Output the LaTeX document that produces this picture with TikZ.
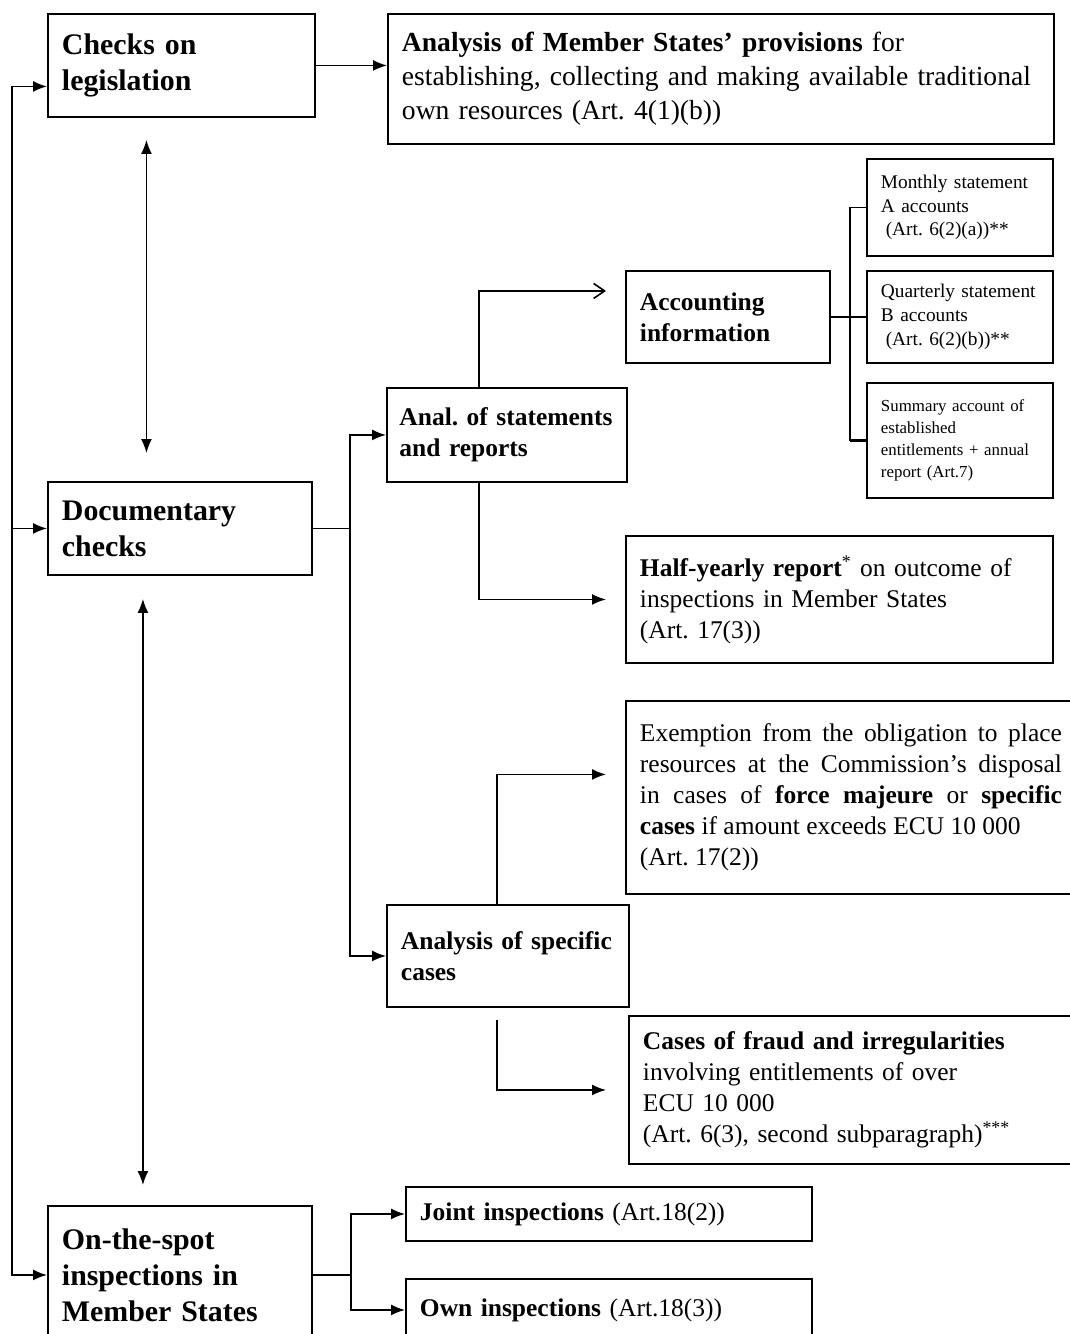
\documentclass[tikz,border=0pt]{standalone}
\usepackage{fontspec}
\setmainfont{Liberation Serif}
\usepackage{tikz}
\usetikzlibrary{arrows.meta, positioning}
\frenchspacing
\newcommand{\bighd}{\fontsize{17}{20.4}\selectfont\bfseries}
\newcommand{\midhd}{\fontsize{14.5}{17.6}\selectfont\bfseries}
\newcommand{\bodyfnt}{\fontsize{14.5}{17.6}\selectfont}
\newcommand{\provfnt}{\fontsize{15.7}{19.3}\selectfont}
\newcommand{\smallfnt}{\fontsize{11}{13.6}\selectfont}
\newcommand{\tinyfnt}{\fontsize{9.6}{12.5}\selectfont}

\begin{document}
\begin{tikzpicture}[x=0.02cm, y=-0.02cm,
    box/.style={draw, line width=1.1pt, anchor=north west, align=left,
                inner xsep=0.28cm, inner ysep=0pt},
    arr/.style={-{Latex[length=2.8mm,width=2.2mm]}, line width=0.9pt},
    barb/.style={-{Straight Barb[length=2.2mm,width=3mm]}, line width=0.9pt},
    dbl/.style={{Latex[length=2.8mm,width=2.2mm]}-{Latex[length=2.8mm,width=2.2mm]}, line width=0.9pt},
    link/.style={line width=0.9pt}
]
    \useasboundingbox (0,0) rectangle (1069,1334);

    \node[box, text width=4.78cm, minimum height=2.06cm, font=\bighd] (leg) at (47,13) {Checks on\\legislation};
    \node[box, text width=12.76cm, minimum height=2.6cm, font=\provfnt] (prov) at (387,13)
        {\textbf{Analysis of Member States’ provisions} for\\establishing, collecting and making available traditional\\own resources (Art. 4(1)(b))};

    \node[box, text width=3.16cm, minimum height=1.94cm, font=\smallfnt] (mon) at (866,158)
        {Monthly statement\\A accounts\\\hspace*{0.25em}(Art. 6(2)(a))**};
    \node[box, text width=3.52cm, minimum height=1.84cm, font=\midhd] (acc) at (625,270) {Accounting\\information};
    \node[box, text width=3.16cm, minimum height=1.84cm, font=\smallfnt] (qua) at (866,270)
        {Quarterly statement\\B accounts\\\hspace*{0.25em}(Art. 6(2)(b))**};
    \node[box, text width=3.16cm, minimum height=2.3cm, font=\tinyfnt] (sum) at (866,382)
        {Summary account of\\established\\entitlements + annual\\report (Art.7)};

    \node[box, text width=4.3cm, inner xsep=0.25cm, minimum height=1.88cm, font=\midhd] (ana) at (386,387) {Anal. of statements\\and reports};
    \node[box, text width=4.72cm, minimum height=1.86cm, font=\bighd] (doc) at (47,481) {Documentary\\checks};
    \node[box, text width=7.98cm, minimum height=2.54cm, font=\bodyfnt] (half) at (625,535)
        {\textbf{Half-yearly report}\textsuperscript{*} on outcome of\\inspections in Member States\\(Art. 17(3))};

    \node[box, text width=8.44cm, minimum height=3.86cm, font=\bodyfnt, align=justify] (exe) at (625,700)
        {Exemption from the obligation to place\linebreak resources at the Commission’s disposal\linebreak
         in cases of \textbf{force majeure} or \textbf{specific}\linebreak \textbf{cases} if amount exceeds ECU 10 000\\(Art. 17(2))};
    \node[box, text width=4.28cm, minimum height=2.04cm, font=\midhd] (spe) at (386,904) {Analysis of specific\\cases};
    \node[box, text width=8.44cm, minimum height=2.96cm, font=\bodyfnt] (fra) at (628,1015)
        {\textbf{Cases of fraud and irregularities}\\involving entitlements of over\\ECU 10 000\\(Art. 6(3), second subparagraph)\textsuperscript{***}};

    \node[box, text width=4.72cm, minimum height=2.76cm, font=\bighd] (spot) at (47,1205) {On-the-spot\\inspections in\\Member States};
    \node[box, text width=7.56cm, minimum height=1.08cm, font=\bodyfnt] (joi) at (405,1186) {\textbf{Joint inspections} (Art.18(2))};
    \node[box, text width=7.56cm, minimum height=1.24cm, font=\bodyfnt] (own) at (405,1278) {\textbf{Own inspections} (Art.18(3))};

    \coordinate[left=0.7cm of doc.west] (sp);
    \coordinate[right=0.74cm of doc.east] (f1);
    \coordinate[right=0.38cm of acc.east] (br);
    \coordinate[right=0.76cm of spot.east] (f2);

    \draw[arr] (sp) |- ([yshift=-0.42cm]leg.west);
    \draw[arr] (sp) -- (doc.west);
    \draw[arr] (sp) |- (spot.west);
    \draw[arr] (leg.east) -- (leg.east -| prov.west);

    \draw[dbl, shorten <=0.44cm, shorten >=0.56cm] ([xshift=-0.7cm]leg.south) -- ([xshift=-0.7cm]leg.south |- doc.north);
    \draw[dbl, shorten <=0.46cm, shorten >=0.4cm] ([xshift=-0.74cm]doc.south) -- ([xshift=-0.74cm]doc.south |- spot.north);

    \draw[link] (doc.east) -- (f1);
    \draw[arr] (f1) |- (ana.west);
    \draw[arr] (f1) |- (spe.west);

    \draw[barb, shorten >=0.38cm] ([xshift=-0.56cm]ana.north) |- ([yshift=0.52cm]acc.west);
    \draw[arr, shorten >=0.38cm] ([xshift=-0.56cm]ana.south) |- (half.west);

    \draw[link] (acc.east) -- (qua.west);
    \draw[link] (mon.west) -| (br) |- (sum.west);
    \draw[line width=2.2pt] (br |- sum.west) -- (sum.west);

    \draw[arr, shorten >=0.38cm] ([xshift=-0.22cm]spe.north) |- ([yshift=0.46cm]exe.west);
    \draw[arr, shorten <=0.24cm, shorten >=0.44cm] ([xshift=-0.22cm]spe.south) |- (fra.west);

    \draw[link] (spot.east) -- (f2);
    \draw[arr] (f2) |- (joi.west);
    \draw[arr] (f2) |- (own.west);
\end{tikzpicture}
\end{document}
